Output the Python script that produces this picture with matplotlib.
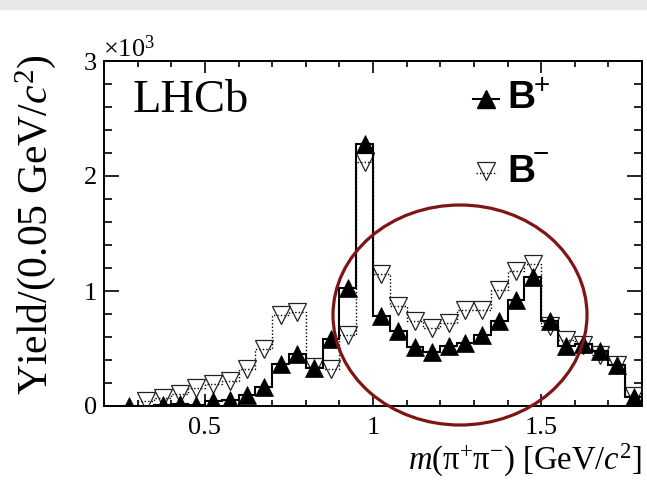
import numpy as np
import matplotlib
matplotlib.use("Agg")
import matplotlib.pyplot as plt
from matplotlib.patches import Ellipse, Rectangle
from matplotlib.ticker import MultipleLocator, FuncFormatter

plt.rcParams['font.family'] = ['Liberation Serif', 'DejaVu Serif']
plt.rcParams['mathtext.fontset'] = 'custom'
plt.rcParams['mathtext.rm'] = 'Liberation Serif'
plt.rcParams['mathtext.it'] = 'Liberation Serif:italic'
plt.rcParams['mathtext.bf'] = 'Liberation Serif:bold'

# ---- data (bins of 0.05 GeV/c^2) ----
bin_edges = np.linspace(0.25, 1.80, 32)
yield_bplus = [0, -150, 10, 17, 5, 43, 55, 93, 168, 365, 452, 330, 585, 1030, 2280,
               783, 655, 510, 467, 525, 548, 617, 737, 922, 1119, 739, 522, 536, 478, 357, 75]
yield_bminus = [-150, 45, 70, 104, 154, 188, 220, 325, 500, 791, 814, 335, 318, 615, 2120,
                1145, 870, 742, 675, 719, 832, 832, 1006, 1174, 1235, 695, 571, 527, 440, 357, 85]
x_ticks = [0.5, 1.0, 1.5]
y_ticks = [0, 1000, 2000, 3000]

W, H = 647, 480
fig = plt.figure(figsize=(W / 100, H / 100), dpi=100)
fig.patch.set_facecolor('white')
fig.add_artist(Rectangle((0, 1 - 10 / H), 1, 10 / H, transform=fig.transFigure,
                         facecolor='#e8e8e8', edgecolor='none', zorder=0))

L, R, T, B = 104, 642, 61, 406
ax = fig.add_axes([L / W, 1 - B / H, (R - L) / W, (B - T) / H])

centers = 0.5 * (bin_edges[:-1] + bin_edges[1:])
dots = (0, (1, 1.5))

ax.stairs(yield_bminus, bin_edges, baseline=None, color='black', lw=1.0, linestyle=dots, zorder=2)
ax.plot(centers, yield_bminus, linestyle='none', marker='v', ms=13.5, mfc='none',
        mec='#222222', mew=0.9, zorder=3)
ax.stairs(yield_bplus, bin_edges, baseline=None, color='black', lw=1.5, zorder=4)
ax.plot(centers, yield_bplus, linestyle='none', marker='^', ms=13.5, mfc='black',
        mec='black', mew=0.5, zorder=5)

ax.set_xlim(0.2, 1.8)
ax.set_ylim(0, 3000)
ax.set_xticks(x_ticks)
ax.xaxis.set_major_formatter(FuncFormatter(lambda v, p: f"{v:g}"))
ax.xaxis.set_minor_locator(MultipleLocator(0.1))
ax.set_yticks(y_ticks)
ax.yaxis.set_major_formatter(FuncFormatter(lambda v, p: f"{int(round(v / 1000))}"))
ax.yaxis.set_minor_locator(MultipleLocator(200))

for s in ax.spines.values():
    s.set_linewidth(1.4)
ax.tick_params(axis='both', which='both', direction='in', top=True, right=True,
               labelsize=19, width=1.2)
ax.tick_params(axis='x', which='major', length=8.6, pad=8)
ax.tick_params(axis='x', which='minor', length=4.3)
ax.tick_params(axis='y', which='major', length=11, pad=5)
ax.tick_params(axis='y', which='minor', length=5.5)

ax.set_xlabel(r'$m(\mathrm{π}^{+}\mathrm{π}^{-})$ [GeV/$c^{2}$]', fontsize=23.5, loc='right', labelpad=2)
ax.set_ylabel(r'Yield/(0.05 GeV/$c^{2}$)', fontsize=30, loc='top')
ax.yaxis.set_label_coords(-(L - 58) / (R - L), 1.02)

fig.text(103 / W, 1 - 57 / H, r'$\times10^{3}$', fontsize=19, ha='left', va='baseline')

def axx(px):
    return (px - L) / (R - L)

def axy(py):
    return (B - py) / (B - T)

tA = ax.transAxes
ax.text(axx(133), axy(112), 'LHCb', fontsize=33.5, ha='left', va='baseline', transform=tA)

# legend
ax.plot([axx(473), axx(499)], [axy(99), axy(99)], color='black', lw=1.5,
        transform=tA, clip_on=False)
ax.plot([axx(486)], [axy(99)], marker='^', ms=13.5, mfc='black', mec='black',
        transform=tA, clip_on=False)
ax.plot([axx(476), axx(497)], [axy(173), axy(173)], color='black', lw=1.0, linestyle=dots,
        transform=tA, clip_on=False)
ax.plot([axx(486)], [axy(171)], marker='v', ms=13.5, mfc='none', mec='#222222', mew=0.9,
        transform=tA, clip_on=False)
ax.text(axx(507), axy(97.5), 'B', family='Liberation Sans', weight='bold', fontsize=28,
        ha='left', va='center', transform=tA)
ax.text(axx(534), axy(86), '+', family='Liberation Sans', fontsize=20, ha='left', va='center',
        transform=tA)
ax.text(axx(507), axy(172.5), 'B', family='Liberation Sans', weight='bold', fontsize=28,
        ha='left', va='center', transform=tA)
ax.text(axx(533), axy(155), '\u2212', family='Liberation Sans', fontsize=20, ha='left', va='center',
        transform=tA)

# highlight ellipse
fig.add_artist(Ellipse((460 / W, 1 - 315 / H), 254 / W, 220 / H, transform=fig.transFigure,
                       facecolor='none', edgecolor='#7f1414', lw=2.3, zorder=10))

fig.savefig('out.png', dpi=100)
